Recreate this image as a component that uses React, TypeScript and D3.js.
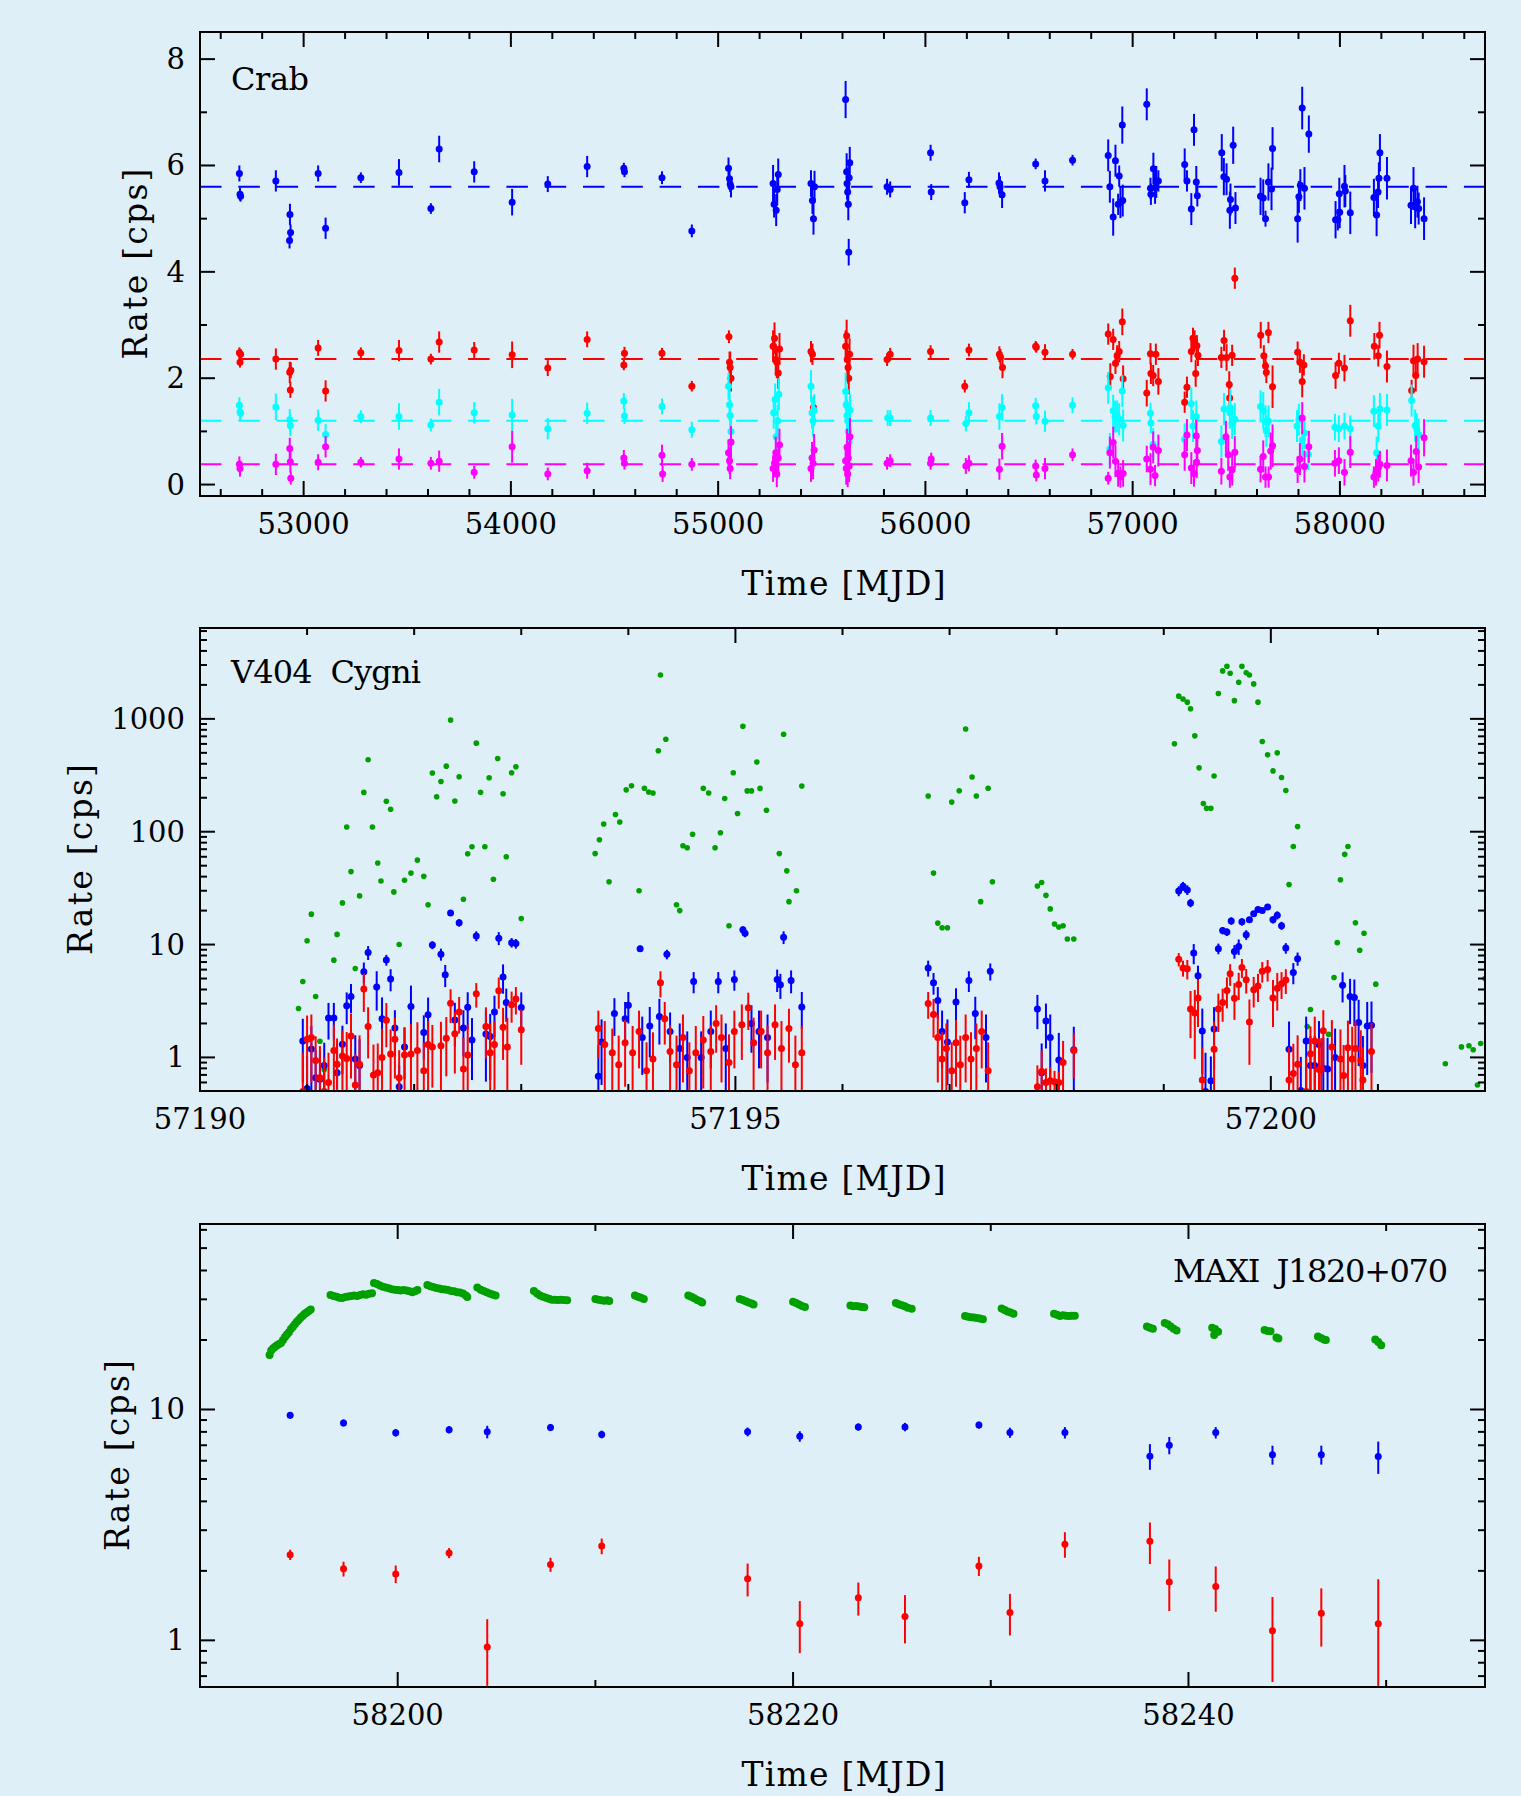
import React from "react";
import * as d3 from "d3";

const W = 1521, H = 1796;
const LEFT = 200, RIGHT = 1485;
const BG = "#dfeff8";
const FONT = "'DejaVu Serif', serif";

// ---------------- Crab (top panel): [MJD, rate, error] ----------------
const crabBlue = [
  [52690, 5.85, 0.15], [52693, 5.46, 0.12], [52696, 5.42, 0.1], [52866, 5.71, 0.2],
  [52934, 5.08, 0.2], [52937, 4.74, 0.15], [52932, 4.59, 0.15], [53070, 5.85, 0.15],
  [53106, 4.82, 0.2], [53276, 5.77, 0.1], [53460, 5.87, 0.25], [53614, 5.19, 0.1],
  [53654, 6.31, 0.25], [53823, 5.88, 0.2], [54006, 5.31, 0.25], [54178, 5.65, 0.15],
  [54368, 5.98, 0.2], [54545, 5.95, 0.1], [54548, 5.88, 0.1], [54729, 5.77, 0.12],
  [54873, 4.77, 0.12], [55050, 5.95, 0.2], [55055, 5.75, 0.15], [55058, 5.65, 0.15],
  [55062, 5.6, 0.2], [55265, 5.66, 0.35], [55270, 5.27, 0.25], [55290, 5.83, 0.3],
  [55285, 5.55, 0.3], [55280, 5.16, 0.3], [55448, 5.66, 0.25], [55455, 5.34, 0.25],
  [55460, 5.0, 0.3], [55465, 5.6, 0.3], [55615, 7.24, 0.35], [55620, 5.88, 0.35],
  [55622, 5.66, 0.3], [55625, 5.5, 0.3], [55628, 5.27, 0.3], [55632, 5.77, 0.3],
  [55635, 6.05, 0.3], [55630, 4.37, 0.25], [55815, 5.6, 0.15], [55830, 5.55, 0.15],
  [56025, 6.24, 0.15], [56028, 5.5, 0.15], [56190, 5.3, 0.2], [56210, 5.73, 0.15],
  [56355, 5.67, 0.2], [56360, 5.6, 0.2], [56370, 5.45, 0.25], [56532, 6.03, 0.1],
  [56577, 5.71, 0.2], [56710, 6.1, 0.1], [56882, 6.19, 0.3], [56890, 5.6, 0.3],
  [56906, 5.03, 0.35], [56917, 6.09, 0.3], [56930, 5.27, 0.2], [56935, 5.8, 0.2],
  [56941, 5.31, 0.3], [56950, 6.76, 0.35], [56952, 5.34, 0.3], [57068, 7.15, 0.3],
  [57086, 5.57, 0.2], [57088, 5.46, 0.2], [57100, 5.94, 0.3], [57108, 5.58, 0.3],
  [57114, 5.69, 0.3], [57124, 5.71, 0.2], [57251, 6.02, 0.3], [57262, 5.71, 0.2],
  [57283, 5.18, 0.3], [57296, 6.67, 0.3], [57307, 5.69, 0.3], [57312, 5.43, 0.2],
  [57430, 6.24, 0.35], [57440, 5.79, 0.35], [57453, 5.74, 0.3], [57469, 5.16, 0.35],
  [57472, 5.36, 0.3], [57485, 6.38, 0.35], [57496, 5.2, 0.3], [57617, 5.42, 0.35],
  [57630, 5.39, 0.35], [57641, 5.0, 0.15], [57655, 5.69, 0.35], [57670, 5.56, 0.4],
  [57675, 6.32, 0.4], [57796, 5.0, 0.45], [57802, 5.41, 0.3], [57809, 5.63, 0.3],
  [57818, 7.08, 0.4], [57829, 5.57, 0.4], [57850, 6.59, 0.35], [57979, 4.98, 0.35],
  [57990, 4.98, 0.2], [57997, 5.47, 0.3], [57999, 5.12, 0.3], [58022, 5.61, 0.4],
  [58026, 5.52, 0.3], [58050, 5.11, 0.4], [58164, 5.4, 0.35], [58177, 5.07, 0.4],
  [58184, 5.5, 0.3], [58188, 5.76, 0.3], [58193, 6.24, 0.35], [58227, 5.76, 0.4],
  [58343, 5.25, 0.35], [58355, 5.57, 0.4], [58363, 5.22, 0.4], [58374, 5.32, 0.3],
  [58380, 5.19, 0.3], [58406, 5.0, 0.4],
];
const crabRed = [
  [52690, 2.48, 0.1], [52693, 2.3, 0.1], [52696, 2.45, 0.1], [52866, 2.36, 0.2],
  [52933, 2.11, 0.2], [52936, 1.78, 0.15], [52938, 2.15, 0.15], [53070, 2.57, 0.15],
  [53106, 1.76, 0.2], [53276, 2.48, 0.1], [53460, 2.52, 0.2], [53614, 2.36, 0.1],
  [53654, 2.68, 0.2], [53823, 2.53, 0.15], [54006, 2.44, 0.25], [54178, 2.19, 0.15],
  [54368, 2.73, 0.15], [54545, 2.25, 0.1], [54548, 2.47, 0.12], [54729, 2.47, 0.1],
  [54873, 1.85, 0.1], [55052, 2.78, 0.12], [55055, 2.3, 0.2], [55058, 2.2, 0.3],
  [55062, 2.0, 0.25], [55265, 2.6, 0.3], [55272, 2.75, 0.3], [55278, 2.35, 0.3],
  [55283, 2.3, 0.3], [55290, 2.1, 0.3], [55296, 2.55, 0.3], [55448, 2.5, 0.2],
  [55455, 2.45, 0.2], [55460, 1.45, 0.2], [55615, 2.6, 0.3], [55620, 2.8, 0.3],
  [55623, 2.35, 0.3], [55627, 2.2, 0.3], [55630, 2.0, 0.3], [55634, 2.45, 0.3],
  [55815, 2.35, 0.12], [55830, 2.45, 0.12], [56025, 2.5, 0.12], [56190, 1.85, 0.12],
  [56210, 2.53, 0.12], [56357, 2.45, 0.15], [56362, 2.4, 0.15], [56372, 2.2, 0.2],
  [56532, 2.6, 0.1], [56535, 2.58, 0.1], [56577, 2.49, 0.15], [56710, 2.45, 0.1],
  [56882, 2.83, 0.2], [56892, 2.03, 0.25], [56906, 2.73, 0.2], [56917, 2.28, 0.2],
  [56925, 2.42, 0.2], [56935, 2.5, 0.2], [56950, 3.06, 0.25], [56954, 1.99, 0.25],
  [57068, 1.72, 0.25], [57086, 2.46, 0.2], [57088, 2.09, 0.2], [57099, 2.05, 0.2],
  [57112, 2.45, 0.2], [57124, 1.94, 0.25], [57251, 1.55, 0.2], [57262, 1.83, 0.2],
  [57283, 2.5, 0.2], [57291, 2.75, 0.2], [57299, 2.7, 0.2], [57304, 2.09, 0.25],
  [57310, 2.61, 0.2], [57315, 2.43, 0.2], [57428, 2.39, 0.2], [57441, 2.71, 0.2],
  [57453, 2.39, 0.25], [57466, 1.88, 0.25], [57468, 1.63, 0.25], [57480, 2.43, 0.2],
  [57493, 3.88, 0.2], [57618, 2.81, 0.25], [57633, 2.42, 0.2], [57641, 2.23, 0.2],
  [57645, 2.11, 0.2], [57655, 2.86, 0.2], [57675, 1.84, 0.4], [57796, 2.49, 0.2],
  [57807, 2.3, 0.2], [57818, 1.94, 0.3], [57826, 2.25, 0.2], [57979, 2.05, 0.25],
  [57995, 2.28, 0.2], [58022, 2.19, 0.25], [58050, 3.08, 0.3], [58166, 2.6, 0.25],
  [58185, 2.42, 0.2], [58191, 2.81, 0.25], [58227, 2.22, 0.3], [58346, 1.77, 0.2],
  [58355, 2.33, 0.3], [58366, 2.05, 0.3], [58375, 2.36, 0.3], [58406, 2.31, 0.3],
];
const crabCyan = [
  [52690, 1.49, 0.15], [52693, 1.37, 0.15], [52696, 1.34, 0.15], [52866, 1.46, 0.25],
  [52933, 1.22, 0.2], [52936, 1.11, 0.2], [53070, 1.21, 0.2], [53106, 0.94, 0.2],
  [53276, 1.28, 0.12], [53460, 1.28, 0.25], [53614, 1.12, 0.12], [53654, 1.55, 0.25],
  [53823, 1.35, 0.2], [54006, 1.31, 0.3], [54178, 1.05, 0.2], [54368, 1.34, 0.2],
  [54545, 1.57, 0.15], [54548, 1.29, 0.15], [54729, 1.47, 0.15], [54873, 1.03, 0.15],
  [55050, 1.85, 0.25], [55055, 1.5, 0.3], [55058, 1.3, 0.3], [55062, 1.0, 0.3],
  [55268, 1.35, 0.3], [55275, 1.6, 0.3], [55280, 0.9, 0.3], [55287, 1.2, 0.3],
  [55293, 1.7, 0.3], [55448, 1.85, 0.3], [55453, 1.35, 0.3], [55458, 1.2, 0.3],
  [55463, 1.4, 0.3], [55615, 1.75, 0.35], [55618, 1.5, 0.3], [55622, 1.3, 0.3],
  [55625, 1.2, 0.3], [55628, 1.0, 0.3], [55632, 0.8, 0.3], [55636, 1.4, 0.3],
  [55818, 1.25, 0.15], [55830, 1.25, 0.15], [56025, 1.25, 0.15], [56195, 1.15, 0.15],
  [56210, 1.35, 0.2], [56357, 1.28, 0.25], [56370, 1.45, 0.25], [56532, 1.48, 0.15],
  [56535, 1.28, 0.15], [56577, 1.19, 0.2], [56710, 1.49, 0.15], [56882, 1.82, 0.3],
  [56890, 0.67, 0.3], [56906, 1.39, 0.3], [56915, 1.28, 0.3], [56925, 1.28, 0.3],
  [56935, 1.23, 0.3], [56950, 1.76, 0.3], [56954, 1.11, 0.3], [57086, 1.34, 0.2],
  [57088, 1.16, 0.2], [57099, 0.76, 0.3], [57251, 0.85, 0.3], [57283, 1.52, 0.3],
  [57291, 1.1, 0.3], [57307, 1.28, 0.3], [57428, 0.81, 0.3], [57441, 1.42, 0.3],
  [57469, 1.35, 0.3], [57471, 1.45, 0.35], [57480, 1.16, 0.3], [57493, 1.23, 0.3],
  [57617, 1.47, 0.3], [57630, 1.39, 0.35], [57641, 1.19, 0.3], [57645, 1.01, 0.3],
  [57656, 1.19, 0.3], [57793, 1.1, 0.3], [57802, 1.22, 0.3], [57818, 0.84, 0.3],
  [57829, 0.97, 0.3], [57847, 0.57, 0.3], [57976, 1.08, 0.25], [57995, 1.05, 0.25],
  [58022, 1.1, 0.25], [58050, 1.05, 0.25], [58164, 1.38, 0.3], [58177, 0.6, 0.3],
  [58185, 1.1, 0.3], [58193, 1.42, 0.3], [58227, 1.4, 0.3], [58346, 1.58, 0.3],
  [58363, 1.11, 0.3], [58371, 1.04, 0.3], [58380, 0.94, 0.3],
];
const crabMagenta = [
  [52690, 0.38, 0.15], [52693, 0.3, 0.15], [52866, 0.38, 0.2], [52933, 0.68, 0.2],
  [52936, 0.43, 0.2], [52938, 0.12, 0.12], [53070, 0.42, 0.15], [53106, 0.71, 0.2],
  [53276, 0.42, 0.1], [53460, 0.48, 0.2], [53614, 0.4, 0.12], [53654, 0.44, 0.2],
  [53823, 0.23, 0.12], [54006, 0.71, 0.3], [54178, 0.2, 0.12], [54368, 0.26, 0.15],
  [54545, 0.5, 0.15], [54548, 0.4, 0.12], [54729, 0.55, 0.2], [54732, 0.2, 0.15],
  [54873, 0.38, 0.12], [55050, 0.6, 0.25], [55055, 0.45, 0.25], [55058, 0.3, 0.2],
  [55062, 0.8, 0.3], [55265, 0.3, 0.25], [55272, 0.4, 0.25], [55278, 0.6, 0.3],
  [55283, 0.2, 0.25], [55290, 0.5, 0.3], [55296, 0.75, 0.3], [55448, 0.3, 0.25],
  [55453, 0.5, 0.3], [55458, 0.4, 0.3], [55463, 0.65, 0.3], [55615, 0.45, 0.3],
  [55618, 0.3, 0.3], [55622, 0.7, 0.35], [55625, 0.2, 0.25], [55628, 0.5, 0.3],
  [55632, 0.35, 0.3], [55636, 0.9, 0.35], [55815, 0.4, 0.12], [55830, 0.45, 0.12],
  [56025, 0.4, 0.12], [56028, 0.48, 0.12], [56195, 0.35, 0.15], [56210, 0.4, 0.15],
  [56357, 0.29, 0.2], [56370, 0.72, 0.25], [56532, 0.35, 0.12], [56535, 0.18, 0.12],
  [56577, 0.3, 0.2], [56710, 0.56, 0.12], [56882, 0.12, 0.12], [56890, 0.6, 0.3],
  [56906, 0.79, 0.3], [56917, 0.44, 0.3], [56930, 0.21, 0.25], [56941, 0.14, 0.2],
  [56954, 0.21, 0.25], [57068, 0.48, 0.25], [57086, 0.29, 0.3], [57099, 0.7, 0.3],
  [57108, 0.17, 0.2], [57124, 0.64, 0.3], [57251, 0.56, 0.3], [57262, 0.93, 0.3],
  [57283, 0.31, 0.3], [57296, 0.21, 0.25], [57307, 0.92, 0.3], [57312, 0.64, 0.3],
  [57309, 0.42, 0.3], [57428, 0.25, 0.25], [57450, 0.9, 0.3], [57461, 0.56, 0.3],
  [57469, 0.14, 0.2], [57480, 0.28, 0.3], [57493, 0.61, 0.3], [57617, 0.29, 0.25],
  [57630, 0.53, 0.3], [57641, 0.14, 0.2], [57656, 0.14, 0.2], [57666, 0.63, 0.35],
  [57675, 0.73, 0.4], [57796, 0.28, 0.25], [57807, 0.48, 0.3], [57818, 1.25, 0.3],
  [57829, 0.34, 0.3], [57850, 0.71, 0.3], [57976, 0.4, 0.25], [57995, 0.45, 0.25],
  [58022, 0.23, 0.25], [58050, 0.61, 0.3], [58164, 0.14, 0.2], [58174, 0.23, 0.25],
  [58185, 0.31, 0.25], [58193, 0.38, 0.25], [58227, 0.36, 0.3], [58343, 0.45, 0.3],
  [58355, 0.23, 0.25], [58368, 0.62, 0.3], [58380, 0.33, 0.3], [58406, 0.88, 0.35],
];
const crabLevels = [5.6, 2.36, 1.2, 0.38];
const crabXTicks = [53000, 54000, 55000, 56000, 57000, 58000];
const crabYTicks = [0, 2, 4, 6, 8];

// ---------------- V404 Cygni (middle panel) ----------------
const v404Green = [
  [57190.92, 2.71], [57190.96, 4.71], [57191.0, 10.8], [57191.04, 18.6], [57191.08, 3.47],
  [57191.12, 1.39], [57191.16, 0.78], [57191.25, 7.28], [57191.28, 12.3], [57191.33, 23.4],
  [57191.37, 110], [57191.41, 44.3], [57191.45, 6.13], [57191.49, 27], [57191.53, 223],
  [57191.57, 434], [57191.61, 110], [57191.66, 52.8], [57191.69, 36.6], [57191.74, 186],
  [57191.78, 158], [57191.81, 29.3], [57191.86, 10], [57191.91, 37.2], [57191.97, 43],
  [57192.03, 56], [57192.09, 40.3], [57192.13, 22.5], [57192.17, 331], [57192.21, 204],
  [57192.25, 279], [57192.3, 381], [57192.34, 975], [57192.38, 187], [57192.42, 307],
  [57192.46, 25.2], [57192.5, 63.8], [57192.54, 73.6], [57192.58, 609], [57192.62, 224],
  [57192.66, 73.6], [57192.7, 301], [57192.74, 37.9], [57192.78, 446], [57192.83, 217],
  [57192.86, 60], [57192.91, 333], [57192.95, 376], [57193.0, 17],
  [57193.69, 64], [57193.73, 85], [57193.77, 117], [57193.82, 36], [57193.88, 142],
  [57193.92, 122], [57193.98, 235], [57194.03, 255], [57194.1, 30], [57194.15, 243],
  [57194.19, 225], [57194.23, 220], [57194.28, 522], [57194.3, 2450], [57194.35, 660],
  [57194.45, 22.5], [57194.48, 20], [57194.51, 75], [57194.55, 72], [57194.6, 95],
  [57194.7, 243], [57194.75, 220], [57194.81, 72], [57194.86, 98], [57194.9, 197],
  [57194.94, 14.7], [57194.98, 333], [57195.02, 145], [57195.07, 860], [57195.11, 230],
  [57195.15, 230], [57195.2, 414], [57195.23, 242], [57195.29, 155], [57195.41, 64],
  [57195.45, 730], [57195.48, 45], [57195.5, 24], [57195.57, 30], [57195.62, 254],
  [57196.8, 207], [57196.85, 43], [57196.89, 15.5], [57196.93, 14.1], [57196.98, 14.1],
  [57197.02, 183], [57197.09, 231], [57197.15, 813], [57197.21, 305], [57197.25, 207],
  [57197.29, 24], [57197.36, 243], [57197.4, 36],
  [57197.82, 33], [57197.86, 35.5], [57197.9, 27.3], [57197.94, 20.7], [57197.98, 15.2],
  [57198.02, 14.3], [57198.06, 14.7], [57198.1, 11.2], [57198.16, 11.2],
  [57199.1, 601], [57199.14, 1589], [57199.18, 1500], [57199.22, 1407], [57199.25, 1230],
  [57199.29, 707], [57199.33, 368], [57199.37, 178], [57199.4, 161], [57199.44, 161],
  [57199.47, 312], [57199.51, 1680], [57199.55, 2660], [57199.59, 2930], [57199.62, 2540],
  [57199.66, 1450], [57199.7, 2110], [57199.73, 2930], [57199.77, 2560], [57199.8, 2450],
  [57199.84, 2040], [57199.88, 1407], [57199.92, 631], [57199.97, 480], [57200.02, 346],
  [57200.06, 500], [57200.1, 302], [57200.14, 232], [57200.17, 34], [57200.21, 74],
  [57200.25, 111], [57200.34, 1.88], [57200.37, 2.66], [57200.54, 1.6], [57200.59, 5.1],
  [57200.62, 10.4], [57200.65, 37.5], [57200.69, 63], [57200.72, 74], [57200.79, 15.6],
  [57200.83, 8.9], [57200.87, 12.6], [57200.98, 4.46], [57201.63, 0.88], [57201.78, 1.24],
  [57201.85, 1.27], [57201.89, 1.17], [57201.93, 0.57], [57201.96, 1.33], [57202.0, 5.0],
];
const v404Blue = [
  [57190.96, 1.4, 0.8], [57191.0, 0.53, 0.5], [57191.04, 1.19, 0.7], [57191.08, 0.66, 0.5],
  [57191.12, 0.64, 0.5], [57191.16, 0.85, 0.5], [57191.2, 2.24, 0.8], [57191.25, 2.24, 0.8],
  [57191.28, 0.73, 0.6], [57191.33, 1.31, 0.6], [57191.37, 2.87, 0.9], [57191.41, 3.47, 1.0],
  [57191.45, 0.97, 0.6], [57191.49, 0.85, 0.6], [57191.53, 5.73, 1.2], [57191.57, 8.5, 1.2],
  [57191.65, 4.2, 1.6], [57191.7, 2.2, 1.2], [57191.74, 7.3, 0.8], [57191.78, 4.95, 1.1],
  [57191.82, 1.82, 0.8], [57191.86, 0.55, 0.3], [57191.91, 1.24, 0.6], [57191.97, 2.83, 1.5],
  [57192.09, 1.66, 0.7], [57192.13, 2.39, 1.0], [57192.17, 9.9, 0.8], [57192.25, 8.2, 1.0],
  [57192.29, 5.4, 1.2], [57192.34, 19, 1.0], [57192.38, 2.15, 0.9], [57192.42, 15.6, 1.2],
  [57192.46, 1.82, 0.8], [57192.5, 2.78, 1.0], [57192.54, 1.43, 0.8], [57192.58, 11.9, 1.2],
  [57192.67, 1.61, 1.0], [57192.71, 1.53, 0.9], [57192.75, 2.52, 1.0], [57192.79, 11.4, 1.5],
  [57192.83, 5.17, 1.5], [57192.86, 3.07, 1.0], [57192.91, 10.4, 1.0], [57192.95, 10.2, 1.0],
  [57193.0, 2.77, 1.0],
  [57193.72, 0.68, 0.6], [57193.75, 1.37, 0.8], [57193.87, 2.45, 0.9], [57193.97, 2.2, 0.9],
  [57194.0, 2.9, 0.9], [57194.11, 9.2, 0.6], [57194.13, 1.5, 0.8], [57194.2, 1.9, 0.9],
  [57194.29, 2.3, 1.0], [57194.36, 8.2, 0.8], [57194.39, 1.7, 0.8], [57194.48, 1.2, 0.8],
  [57194.55, 1.0, 0.7], [57194.61, 4.7, 1.0], [57194.68, 1.0, 0.7], [57194.77, 1.7, 0.9],
  [57194.84, 4.7, 1.0], [57194.91, 1.2, 0.8], [57194.99, 4.9, 1.0], [57195.07, 13.5, 1.0],
  [57195.09, 12.6, 1.0], [57195.15, 2.0, 0.9], [57195.22, 1.7, 0.9], [57195.3, 1.5, 0.9],
  [57195.39, 4.9, 1.1], [57195.42, 4.4, 1.1], [57195.45, 11.6, 1.5], [57195.52, 4.8, 1.1],
  [57195.62, 2.8, 1.0],
  [57196.8, 6.2, 1.0], [57196.85, 4.6, 1.0], [57196.89, 3.2, 1.0], [57196.93, 1.7, 0.9],
  [57196.98, 1.37, 0.8], [57197.06, 3.1, 1.0], [57197.18, 4.8, 1.0], [57197.24, 2.45, 1.0],
  [57197.34, 1.5, 0.9], [57197.38, 5.8, 1.0],
  [57197.82, 2.68, 0.9], [57197.86, 0.73, 0.6], [57197.9, 2.1, 0.9], [57197.94, 1.5, 0.9],
  [57198.02, 0.95, 0.7], [57198.16, 1.17, 0.7],
  [57199.14, 29.8, 3], [57199.18, 32.9, 3], [57199.22, 30.5, 3], [57199.25, 23.4, 2],
  [57199.28, 8.4, 1.7], [57199.32, 5.3, 1.2], [57199.36, 1.71, 1.0], [57199.39, 0.5, 0.6],
  [57199.44, 0.62, 0.4], [57199.47, 1.79, 1.0], [57199.51, 9.2, 1.0], [57199.55, 13.3, 1.0],
  [57199.59, 12.9, 1.0], [57199.63, 16.2, 1.2], [57199.66, 8.7, 1.2], [57199.7, 9.6, 1.5],
  [57199.73, 15.9, 1.2], [57199.77, 12.2, 1.2], [57199.8, 16.6, 1.0], [57199.84, 18.8, 1.0],
  [57199.88, 20.4, 1.0], [57199.92, 20, 1.0], [57199.97, 21.5, 1.0], [57200.02, 16.6, 1.2],
  [57200.06, 18.2, 1.5], [57200.1, 14.7, 1.2], [57200.14, 9.3, 1.0], [57200.17, 1.18, 0.9],
  [57200.21, 5.65, 1.2], [57200.25, 7.5, 1.0], [57200.28, 0.51, 0.5], [57200.33, 1.4, 0.9],
  [57200.37, 0.85, 0.7], [57200.41, 0.85, 0.7], [57200.45, 1.3, 0.8], [57200.49, 0.8, 0.7],
  [57200.53, 0.79, 0.7], [57200.6, 1.0, 0.8], [57200.67, 4.37, 1.3], [57200.74, 3.47, 1.5],
  [57200.78, 3.4, 1.5], [57200.82, 2.04, 1.2], [57200.86, 0.85, 0.7], [57200.9, 1.9, 1.2],
  [57200.94, 1.93, 1.2],
];
const v404Red = [
  [57190.96, 0.5, 0.6], [57191.0, 1.45, 0.9], [57191.04, 1.5, 0.9], [57191.08, 0.94, 0.6],
  [57191.12, 0.66, 0.6], [57191.16, 0.5, 0.5], [57191.2, 0.6, 0.5], [57191.25, 1.15, 0.8],
  [57191.28, 0.87, 0.6], [57191.33, 1.03, 0.7], [57191.37, 0.98, 0.7], [57191.41, 1.55, 0.9],
  [57191.45, 0.57, 0.5], [57191.49, 0.87, 0.7], [57191.53, 4.03, 1.5], [57191.57, 1.88, 0.9],
  [57191.62, 0.7, 0.6], [57191.66, 0.73, 0.6], [57191.7, 1.0, 0.8], [57191.74, 2.13, 0.9],
  [57191.78, 1.07, 0.7], [57191.82, 1.45, 0.8], [57191.86, 0.66, 0.5], [57191.91, 1.05, 0.8],
  [57191.97, 1.07, 0.9], [57192.03, 1.15, 0.9], [57192.09, 0.76, 0.6], [57192.13, 1.3, 0.8],
  [57192.17, 1.24, 0.7], [57192.25, 1.27, 0.8], [57192.3, 1.48, 0.8], [57192.34, 3.02, 1.0],
  [57192.38, 1.62, 0.9], [57192.42, 2.53, 0.9], [57192.46, 0.79, 0.7], [57192.5, 1.05, 0.9],
  [57192.58, 3.66, 0.9], [57192.67, 1.88, 0.9], [57192.71, 1.1, 0.9], [57192.75, 1.3, 0.8],
  [57192.79, 3.9, 1.2], [57192.83, 1.85, 0.9], [57192.87, 1.24, 1.0], [57192.91, 2.93, 0.9],
  [57192.95, 3.3, 0.9], [57193.0, 1.76, 0.9],
  [57193.72, 1.8, 0.8], [57193.78, 1.3, 0.8], [57193.85, 1.1, 0.7], [57193.91, 0.86, 0.7],
  [57193.97, 1.35, 0.8], [57194.04, 1.1, 0.8], [57194.1, 1.7, 0.9], [57194.17, 0.76, 0.6],
  [57194.23, 0.97, 0.7], [57194.3, 4.6, 1.2], [57194.34, 2.2, 0.9], [57194.39, 1.13, 0.8],
  [57194.45, 0.86, 0.7], [57194.51, 1.5, 0.9], [57194.57, 0.76, 0.6], [57194.63, 1.1, 0.8],
  [57194.7, 1.43, 0.9], [57194.77, 1.13, 0.8], [57194.82, 2.0, 0.9], [57194.87, 1.5, 0.9],
  [57194.94, 0.9, 0.7], [57194.99, 1.7, 0.9], [57195.06, 1.95, 1.0], [57195.12, 2.75, 1.0],
  [57195.17, 1.35, 0.9], [57195.24, 1.7, 0.9], [57195.3, 1.1, 0.8], [57195.37, 1.95, 1.0],
  [57195.43, 1.2, 0.9], [57195.5, 1.8, 0.9], [57195.56, 0.86, 0.7], [57195.62, 1.1, 0.8],
  [57196.8, 3.0, 0.8], [57196.85, 2.4, 0.9], [57196.89, 1.5, 0.9], [57196.93, 0.97, 0.7],
  [57196.97, 1.2, 0.8], [57197.02, 0.76, 0.6], [57197.06, 1.35, 0.8], [57197.1, 0.86, 0.7],
  [57197.15, 1.5, 0.9], [57197.2, 0.97, 0.7], [57197.25, 1.2, 0.8], [57197.3, 1.7, 0.9],
  [57197.36, 0.76, 0.6],
  [57197.82, 0.55, 0.3], [57197.86, 0.75, 0.4], [57197.9, 0.6, 0.2], [57197.94, 0.62, 0.2],
  [57197.98, 0.61, 0.15], [57198.02, 0.6, 0.15], [57198.06, 0.9, 0.5], [57198.16, 1.15, 0.5],
  [57199.14, 7.4, 1.0], [57199.18, 6.2, 1.0], [57199.22, 6.1, 1.2], [57199.25, 2.68, 1.2],
  [57199.29, 2.47, 1.5], [57199.32, 3.36, 1.5], [57199.36, 0.63, 0.6], [57199.47, 1.18, 0.9],
  [57199.51, 2.68, 1.0], [57199.55, 3.07, 1.0], [57199.59, 3.92, 1.2], [57199.62, 5.5, 1.2],
  [57199.66, 3.35, 1.2], [57199.7, 4.42, 1.2], [57199.73, 6.25, 1.2], [57199.77, 4.88, 1.2],
  [57199.8, 2.06, 1.2], [57199.84, 3.97, 1.2], [57199.88, 4.3, 1.2], [57199.92, 5.8, 1.2],
  [57199.97, 6.0, 1.3], [57200.02, 3.36, 1.5], [57200.06, 4.1, 1.5], [57200.1, 4.5, 1.2],
  [57200.14, 4.85, 1.2], [57200.17, 0.63, 0.6], [57200.21, 0.72, 0.6], [57200.25, 0.87, 0.7],
  [57200.33, 0.5, 0.5], [57200.37, 1.08, 0.8], [57200.41, 1.4, 0.9], [57200.45, 0.78, 0.7],
  [57200.47, 0.78, 0.7], [57200.49, 1.72, 0.9], [57200.57, 1.24, 0.9], [57200.65, 0.97, 0.8],
  [57200.68, 0.69, 0.6], [57200.72, 1.22, 0.9], [57200.76, 0.97, 0.9], [57200.79, 1.2, 0.9],
  [57200.84, 0.94, 0.8], [57200.86, 0.63, 0.6], [57200.94, 1.13, 0.9],
];
const v404XTicks = [57190, 57195, 57200];
const v404YTicks = [1, 10, 100, 1000];

// ---------------- MAXI J1820+070 (bottom panel) ----------------
const maxiGreen = [
  [58193.52, 17.2], [58193.6, 18.0], [58193.7, 18.4], [58193.8, 18.7], [58193.9, 19.0],
  [58194.0, 19.2], [58194.1, 19.4], [58194.2, 20.0], [58194.3, 20.6], [58194.4, 21.1],
  [58194.5, 21.6], [58194.6, 22.3], [58194.7, 22.8], [58194.8, 23.4], [58194.9, 24.0],
  [58195.0, 24.5], [58195.1, 25.0], [58195.2, 25.5], [58195.3, 26.0], [58195.4, 26.3],
  [58195.5, 26.7], [58195.6, 27.1],
  [58196.6, 31.3], [58196.75, 31.0], [58196.9, 30.8], [58197.05, 30.5], [58197.2, 30.4],
  [58197.35, 30.7], [58197.5, 30.9], [58197.65, 31.0], [58197.8, 31.2], [58197.95, 31.0],
  [58198.1, 31.3], [58198.25, 31.6], [58198.4, 31.4], [58198.55, 31.7], [58198.7, 31.9],
  [58198.8, 35.3], [58198.95, 35.0], [58199.1, 34.4], [58199.25, 34.0], [58199.4, 33.8],
  [58199.55, 33.5], [58199.7, 33.2], [58199.85, 33.0], [58200.0, 32.9], [58200.15, 32.8],
  [58200.3, 32.9], [58200.45, 32.8], [58200.6, 32.5], [58200.75, 32.2], [58200.9, 32.6],
  [58201.0, 32.9],
  [58201.5, 34.6], [58201.65, 34.2], [58201.8, 33.9], [58201.95, 33.6], [58202.1, 33.4],
  [58202.25, 33.2], [58202.4, 33.1], [58202.55, 32.9], [58202.7, 32.6], [58202.85, 32.5],
  [58203.0, 32.2], [58203.15, 32.1], [58203.3, 31.8], [58203.45, 31.2], [58203.52, 30.7],
  [58204.03, 33.8], [58204.2, 33.0], [58204.35, 32.6], [58204.5, 32.2], [58204.65, 31.8],
  [58204.8, 31.5], [58204.95, 31.2],
  [58206.89, 32.6], [58207.05, 31.8], [58207.2, 31.2], [58207.35, 30.8], [58207.5, 30.5],
  [58207.65, 30.2], [58207.8, 29.9], [58207.95, 29.9], [58208.1, 29.8], [58208.25, 29.9],
  [58208.4, 29.8], [58208.57, 29.7],
  [58210.0, 30.1], [58210.15, 29.9], [58210.3, 29.7], [58210.45, 29.6], [58210.6, 29.7],
  [58210.7, 29.5], [58212.0, 31.2], [58212.15, 30.8], [58212.3, 30.5], [58212.45, 30.1],
  [58214.7, 31.2], [58214.85, 30.8], [58215.0, 30.3], [58215.15, 29.8], [58215.3, 29.4],
  [58215.4, 29.1], [58217.3, 30.1], [58217.45, 29.8], [58217.6, 29.4], [58217.75, 29.1],
  [58217.9, 28.8], [58218.0, 28.5], [58220.0, 29.3], [58220.15, 28.9], [58220.3, 28.5],
  [58220.45, 28.1], [58220.6, 27.8], [58222.9, 28.2], [58223.05, 28.0], [58223.2, 28.1],
  [58223.35, 27.9], [58223.5, 27.8], [58223.6, 27.7], [58225.2, 28.9], [58225.35, 28.6],
  [58225.5, 28.3], [58225.65, 28.0], [58225.8, 27.6], [58226.0, 27.3], [58228.7, 25.4],
  [58228.85, 25.2], [58229.0, 25.1], [58229.15, 25.0], [58229.3, 24.9], [58229.45, 24.8],
  [58229.6, 24.6], [58230.55, 27.4], [58230.7, 27.0], [58230.85, 26.6], [58231.0, 26.3],
  [58231.15, 26.0], [58233.2, 26.0], [58233.35, 25.7], [58233.5, 25.4], [58233.65, 25.6],
  [58233.8, 25.5], [58233.95, 25.4], [58234.1, 25.5], [58234.25, 25.5],
  [58237.9, 22.9], [58238.05, 22.6], [58238.2, 22.4], [58238.8, 23.7], [58238.95, 23.4],
  [58239.1, 22.9], [58239.25, 22.4], [58239.4, 22.0], [58241.2, 22.6], [58241.35, 22.3],
  [58241.5, 21.7], [58241.3, 21.0], [58243.85, 22.1], [58244.0, 21.9], [58244.15, 21.8],
  [58244.45, 20.5], [58244.55, 20.3], [58246.55, 20.7], [58246.7, 20.4], [58246.85, 20.1],
  [58246.95, 20.0], [58249.45, 20.1], [58249.6, 19.6], [58249.75, 19.0],
];
const maxiBlue = [
  [58194.56, 9.44, 0.3], [58197.26, 8.75, 0.3], [58199.9, 7.93, 0.3], [58202.6, 8.18, 0.3],
  [58204.53, 8.0, 0.5], [58207.73, 8.36, 0.3], [58210.32, 7.8, 0.3], [58217.7, 8.0, 0.35],
  [58220.34, 7.65, 0.4], [58223.3, 8.4, 0.3], [58225.66, 8.4, 0.35], [58229.4, 8.56, 0.3],
  [58230.97, 7.94, 0.4], [58233.75, 7.94, 0.45], [58238.05, 6.28, 0.8], [58239.03, 7.0, 0.6],
  [58241.38, 7.94, 0.45], [58244.25, 6.37, 0.6], [58246.72, 6.37, 0.6], [58249.6, 6.26, 1.0],
];
const maxiRed = [
  [58194.56, 2.35, 0.12], [58197.26, 2.04, 0.15], [58199.9, 1.94, 0.17], [58202.6, 2.39, 0.12],
  [58204.53, 0.935, 0.3], [58207.73, 2.13, 0.15], [58210.32, 2.56, 0.2], [58217.7, 1.85, 0.3],
  [58220.34, 1.18, 0.3], [58223.3, 1.53, 0.25], [58225.66, 1.27, 0.3], [58229.4, 2.1, 0.2],
  [58230.97, 1.32, 0.27], [58233.75, 2.61, 0.33], [58238.05, 2.69, 0.55], [58239.03, 1.79, 0.45],
  [58241.38, 1.71, 0.38], [58244.25, 1.1, 0.44], [58246.72, 1.31, 0.37], [58249.6, 1.18, 0.66],
];
const maxiXTicks = [58200, 58220, 58240];
const maxiYTicks = [1, 10];

// ---------------------------------------------------------------
function Panel(props: any) {
  const { id, top, bottom, x, y, log, xMajor, xMinor, xLabels, yMajor, yMinor, yLabels,
    series, levels, name, nameX, nameY, nameAnchor, nameLen, titleX } = props;
  const bottomY = log ? y.domain()[0] * 0.2 : y.domain()[0] - 1;
  const tick = (k: string, x1: number, y1: number, x2: number, y2: number) => (
    <line key={k} x1={x1} y1={y1} x2={x2} y2={y2} stroke="#000" strokeWidth={2} />
  );
  const ticks: any[] = [];
  xMajor.forEach((t: number) => {
    const px = x(t);
    ticks.push(tick("xb" + t, px, bottom, px, bottom - 15));
    ticks.push(tick("xt" + t, px, top, px, top + 15));
  });
  xMinor.forEach((t: number) => {
    const px = x(t);
    ticks.push(tick("xbm" + t, px, bottom, px, bottom - 7));
    ticks.push(tick("xtm" + t, px, top, px, top + 7));
  });
  yMajor.forEach((v: number) => {
    const py = y(v);
    ticks.push(tick("yl" + v, LEFT, py, LEFT + 15, py));
    ticks.push(tick("yr" + v, RIGHT, py, RIGHT - 15, py));
  });
  yMinor.forEach((v: number) => {
    const py = y(v);
    ticks.push(tick("ylm" + v, LEFT, py, LEFT + 7, py));
    ticks.push(tick("yrm" + v, RIGHT, py, RIGHT - 7, py));
  });
  const midY = (top + bottom) / 2;
  return (
    <g>
      <defs>
        <clipPath id={id}>
          <rect x={LEFT} y={top} width={RIGHT - LEFT} height={bottom - top} />
        </clipPath>
      </defs>
      <g clipPath={`url(#${id})`}>
        {(levels || []).map((l: any, i: number) => (
          <line key={"lv" + i} x1={LEFT} x2={RIGHT} y1={y(l.v)} y2={y(l.v)}
            stroke={l.color} strokeWidth={2} strokeDasharray="21.5 16.8" />
        ))}
        {series.map((s: any, si: number) => (
          <g key={"s" + si} fill={s.color} stroke={s.color}>
            {s.data.map((d: number[], i: number) => {
              const cx = x(d[0]);
              const cy = y(d[1]);
              const lo = d.length > 2 ? d[1] - d[2] : d[1];
              const hi = d.length > 2 ? d[1] + d[2] : d[1];
              return (
                <g key={i}>
                  {d.length > 2 && (
                    <line x1={cx} x2={cx} y1={y(lo > 0 || !log ? lo : bottomY)} y2={y(hi)}
                      strokeWidth={2} />
                  )}
                  <circle cx={cx} cy={cy} r={s.r} stroke="none" />
                </g>
              );
            })}
          </g>
        ))}
      </g>
      <rect x={LEFT} y={top} width={RIGHT - LEFT} height={bottom - top}
        fill="none" stroke="#000" strokeWidth={2} />
      {ticks}
      <g fontFamily={FONT} fontSize={29} fill="#000">
        {xLabels.map((t: number) => (
          <text key={"xl" + t} x={x(t)} y={bottom + 38} textAnchor="middle">{t}</text>
        ))}
        {yLabels.map((v: number) => (
          <text key={"yl" + v} x={185} y={y(v) + 10} textAnchor="end">{v}</text>
        ))}
      </g>
      <text x={nameX} y={nameY} textAnchor={nameAnchor} fontFamily={FONT} fontSize={32}
        textLength={nameLen} style={{ whiteSpace: "pre" }}>{name}</text>
      <text x={(LEFT + RIGHT) / 2 + 1} y={bottom + 99} textAnchor="middle" fontFamily={FONT}
        fontSize={33} textLength={204}>Time [MJD]</text>
      <text transform={`translate(${titleX},${midY}) rotate(-90)`} textAnchor="middle"
        fontFamily={FONT} fontSize={33} textLength={191}>Rate [cps]</text>
    </g>
  );
}

export default function App() {
  // Crab
  const x1 = d3.scaleLinear().domain([52500, 58700]).range([LEFT, RIGHT]);
  const y1 = d3.scaleLinear().domain([-0.215, 8.51]).range([496, 32]);
  // V404 Cygni
  const x2 = d3.scaleLinear().domain([57190, 57202]).range([LEFT, RIGHT]);
  const y2 = d3.scaleLog().domain([0.504, 6385]).range([1091, 628]);
  // MAXI J1820+070
  const x3 = d3.scaleLinear().domain([58190, 58255]).range([LEFT, RIGHT]);
  const y3 = d3.scaleLog().domain([0.628, 63.6]).range([1687, 1224]);

  const isDecade = (v: number) => Math.abs(Math.log10(v) - Math.round(Math.log10(v))) < 1e-6;

  return (
    <svg width={W} height={H} style={{ position: "absolute", left: 0, top: 0, display: "block" }}>
      <rect x={0} y={0} width={W} height={H} fill={BG} />
      <Panel id="c1" top={32} bottom={496} x={x1} y={y1} log={false}
        xMajor={crabXTicks} xMinor={d3.range(52600, 58700, 200).filter((t) => t % 1000 !== 0)}
        xLabels={crabXTicks} yMajor={crabYTicks} yMinor={[1, 3, 5, 7]} yLabels={crabYTicks}
        levels={crabLevels.map((v, i) => ({ v, color: ["#0000ff", "#ff0000", "#00ffff", "#ff00ff"][i] }))}
        series={[
          { data: crabBlue, color: "#0000ff", r: 3.5 },
          { data: crabRed, color: "#ff0000", r: 3.5 },
          { data: crabCyan, color: "#00ffff", r: 3.5 },
          { data: crabMagenta, color: "#ff00ff", r: 3.5 },
        ]}
        name="Crab" nameX={231} nameY={90} nameAnchor="start" nameLen={78} titleX={147} />
      <Panel id="c2" top={628} bottom={1091} x={x2} y={y2} log={true}
        xMajor={v404XTicks} xMinor={d3.range(57191, 57202).filter((t) => t % 5 !== 0)}
        xLabels={v404XTicks} yMajor={v404YTicks}
        yMinor={y2.ticks().filter((v) => !isDecade(v))} yLabels={v404YTicks}
        series={[
          { data: v404Green, color: "#00a000", r: 2.8 },
          { data: v404Blue, color: "#0000ff", r: 3.5 },
          { data: v404Red, color: "#ff0000", r: 3.5 },
        ]}
        name="V404  Cygni" nameX={231} nameY={683} nameAnchor="start" nameLen={190} titleX={92} />
      <Panel id="c3" top={1224} bottom={1687} x={x3} y={y3} log={true}
        xMajor={maxiXTicks} xMinor={[58190, 58210, 58230, 58250]}
        xLabels={maxiXTicks} yMajor={maxiYTicks}
        yMinor={y3.ticks().filter((v) => !isDecade(v))} yLabels={maxiYTicks}
        series={[
          { data: maxiGreen, color: "#00a000", r: 4 },
          { data: maxiBlue, color: "#0000ff", r: 3.5 },
          { data: maxiRed, color: "#ff0000", r: 3.5 },
        ]}
        name="MAXI  J1820+070" nameX={1448} nameY={1282} nameAnchor="end" nameLen={275} titleX={129} />
    </svg>
  );
}
